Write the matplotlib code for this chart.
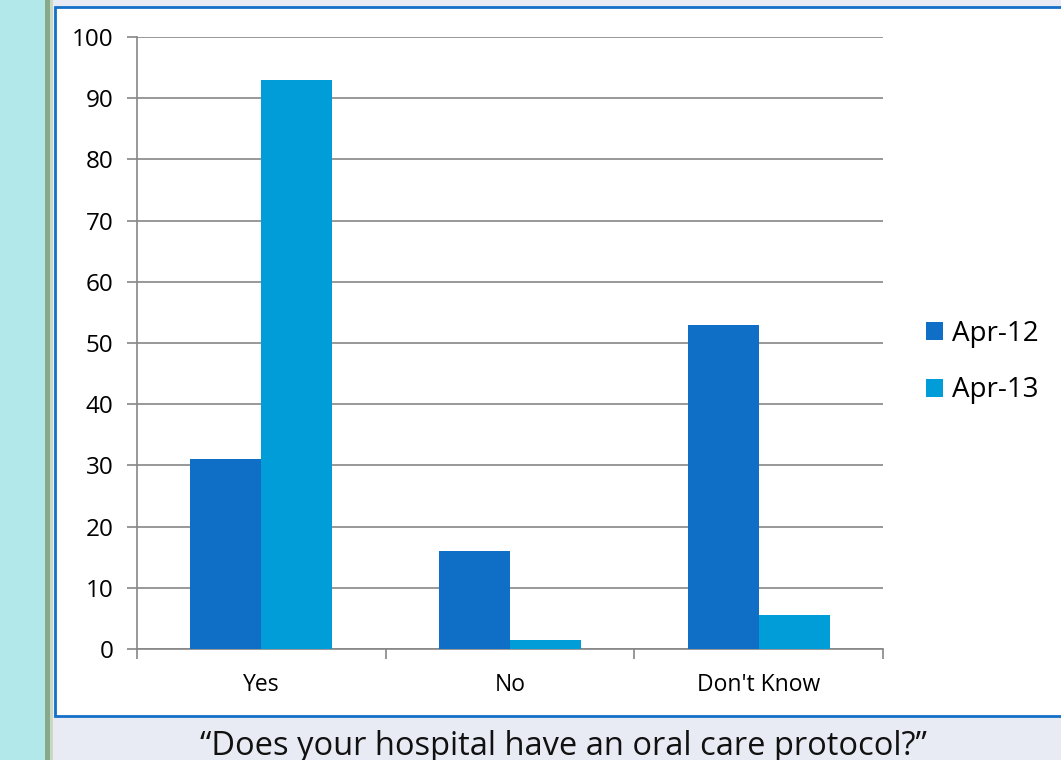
import matplotlib
matplotlib.use("Agg")
import matplotlib.pyplot as plt
from matplotlib.patches import Rectangle
import numpy as np

categories = ["Yes", "No", "Don't Know"]
series_names = ["Apr-12", "Apr-13"]
apr12 = [31, 16, 53]
apr13 = [93, 1.5, 5.5]
colors = ["#0F6FC6", "#009DD9"]
yticks = [0, 10, 20, 30, 40, 50, 60, 70, 80, 90, 100]
caption = "\u201cDoes your hospital have an oral care protocol?\u201d"

W, H = 1061, 760
fig = plt.figure(figsize=(W / 100, H / 100), dpi=100)
fig.patch.set_facecolor("#E8EBF3")

def px_rect(x0, y0, x1, y1, **kw):
    # pixel coords (top-left origin) -> figure fraction
    r = Rectangle((x0 / W, 1 - y1 / H), (x1 - x0) / W, (y1 - y0) / H,
                  transform=fig.transFigure, zorder=-5, **kw)
    fig.add_artist(r)

# left decorative strips
px_rect(0, 0, 45, H, facecolor="#B3E8EA", edgecolor="none")
px_rect(45, 0, 50, H, facecolor="#86A98A", edgecolor="none")
px_rect(50, 0, 53, H, facecolor="#C9D9C4", edgecolor="none")
# white chart box with blue border
px_rect(55, 7, W + 5, 716, facecolor="white", edgecolor="#1470C8", linewidth=2)

ax = fig.add_axes([137 / W, 1 - 649 / H, (883 - 137) / W, (649 - 37) / H])
ax.set_facecolor("none")

x = np.arange(len(categories))
bw = 0.285
ax.bar(x - bw / 2, apr12, width=bw, color=colors[0], label=series_names[0], zorder=3)
ax.bar(x + bw / 2, apr13, width=bw, color=colors[1], label=series_names[1], zorder=3)

ax.set_xlim(-0.5, len(categories) - 0.5)
ax.set_ylim(0, 100)
ax.set_yticks(yticks)
ax.set_yticklabels([str(v) for v in yticks], fontsize=17.5, family="Open Sans")
ax.yaxis.grid(True, color="#868686", linewidth=1.2, zorder=0)
ax.set_axisbelow(True)

ax.set_xticks(x)
ax.set_xticklabels(categories, fontsize=16.5, family="Open Sans")
ax.tick_params(axis="x", length=0, pad=17)
ax.set_xticks(np.arange(len(categories) + 1) - 0.5, minor=True)
ax.tick_params(axis="x", which="minor", length=7, color="#868686", width=1.2)
ax.tick_params(axis="y", length=7, color="#868686", width=1.2, pad=10)

for s in ["top", "right"]:
    ax.spines[s].set_visible(False)
for s in ["left", "bottom"]:
    ax.spines[s].set_color("#868686")
    ax.spines[s].set_linewidth(1.2)

leg = fig.legend(loc="center left", bbox_to_anchor=(926 / W, 1 - 362 / H),
                 bbox_transform=fig.transFigure, frameon=False,
                 prop={"family": "Open Sans", "size": 20}, handlelength=0.62,
                 handleheight=0.62, handletextpad=0.3, labelspacing=1.03,
                 borderpad=0, borderaxespad=0)

fig.text(563 / W, 1 - 755 / H, caption, ha="center", va="baseline",
         fontsize=23.5, family="Open Sans", color="#111111")

fig.savefig("out.png", dpi=100, facecolor=fig.get_facecolor())
